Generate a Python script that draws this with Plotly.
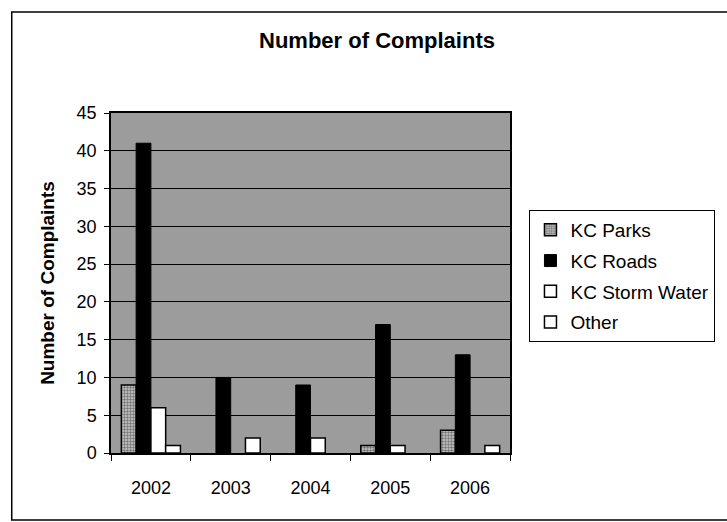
import plotly.graph_objects as go

years = ["2002", "2003", "2004", "2005", "2006"]
kc_parks = [9, 0, 0, 1, 3]
kc_roads = [41, 10, 9, 17, 13]
kc_storm = [6, 0, 2, 1, 0]
other = [1, 2, 0, 0, 1]
y_ticks = [0, 5, 10, 15, 20, 25, 30, 35, 40, 45]

FONT = "Liberation Sans, Arial, sans-serif"


def outline(vals, w):
    return [w if v > 0 else 0 for v in vals]


fig = go.Figure()
fig.add_trace(go.Bar(
    name="KC Parks", x=years, y=kc_parks, legendgroup="a",
    marker=dict(color="white", line=dict(color="black", width=outline(kc_parks, 1.5)),
                pattern=dict(shape=".", fgcolor="#222", bgcolor="#c8c8c8", size=3, solidity=0.5)),
))
fig.add_trace(go.Bar(
    name="KC Roads", x=years, y=kc_roads, legendgroup="b",
    marker=dict(color="black", line=dict(color="black", width=outline(kc_roads, 1))),
))
fig.add_trace(go.Bar(
    name="KC Storm Water", x=years, y=kc_storm, legendgroup="c",
    marker=dict(color="white", line=dict(color="black", width=outline(kc_storm, 1.5))),
))
fig.add_trace(go.Bar(
    name="Other", x=years, y=other, legendgroup="d",
    marker=dict(color="white", line=dict(color="black", width=outline(other, 1.5))),
))

fig.update_layout(
    width=727, height=522,
    barmode="group", bargap=0.26, bargroupgap=0,
    paper_bgcolor="white", plot_bgcolor="#9c9c9c",
    margin=dict(l=111, r=206, t=113, b=69),
    font=dict(family=FONT, color="black", size=18),
    title=dict(text="<b>Number of Complaints</b>", x=377/727, xanchor="center",
               y=1 - 40/522, yanchor="middle", font=dict(size=22, family=FONT)),
    legend=dict(x=(541 - 111) / 410, y=(453 - 210) / 340, xanchor="left", yanchor="top",
                bgcolor="white", bordercolor="black", borderwidth=1,
                font=dict(size=19, family=FONT), tracegroupgap=3,
                itemwidth=30),
    showlegend=True,
)
fig.update_xaxes(
    type="category", tickson="boundaries", ticks="outside", ticklen=6,
    tickcolor="black", showline=True, linecolor="black", linewidth=1.5,
    mirror=True, showgrid=False, tickfont=dict(size=18),
    ticklabelstandoff=18,
)
fig.update_yaxes(
    range=[0, 45], tickvals=y_ticks, ticks="outside", ticklen=5,
    tickcolor="black", showline=True, linecolor="black", linewidth=1.5,
    mirror=True, showgrid=True, gridcolor="black", gridwidth=1,
    tickfont=dict(size=18), zeroline=False, ticklabelstandoff=4,
    title=dict(text="<b>Number of Complaints</b>", font=dict(size=19), standoff=17),
)
fig.add_shape(type="rect", xref="paper", yref="paper",
              x0=(9 - 111) / 410, x1=1.6, y0=(453 - 520) / 340, y1=(453 - 12) / 340,
              line=dict(color="black", width=1.5), fillcolor="rgba(0,0,0,0)", layer="below")

fig.write_html("out.html", config={"displayModeBar": False},
               post_script="document.body.style.margin='0';")
